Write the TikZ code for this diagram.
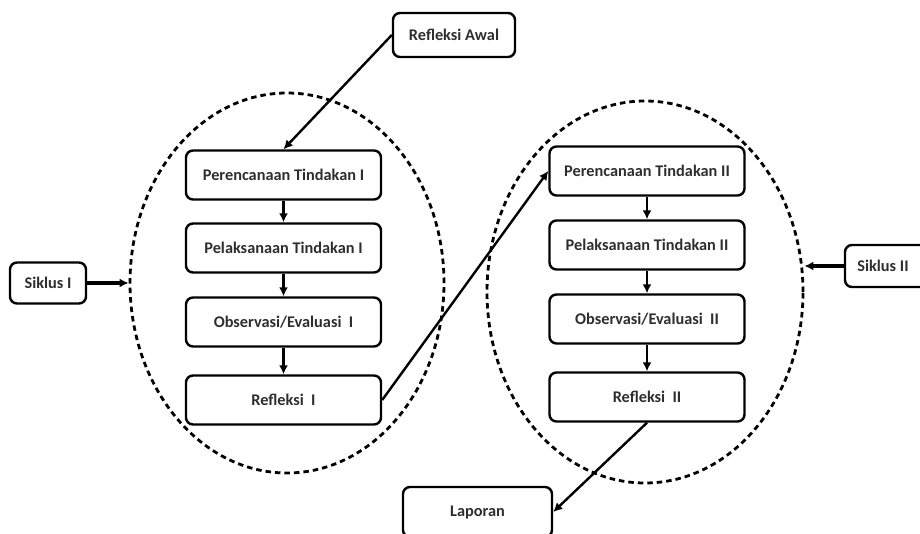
\documentclass[tikz,border=0pt]{standalone}
\usepackage{fontspec}
\setmainfont{Carlito}
\usetikzlibrary{shapes.geometric,arrows.meta}

\tikzset{
  box/.style={draw, line width=2.4pt, rounded corners=7pt, minimum width=195pt,
    minimum height=49pt, font=\fontsize{16.3}{18}\selectfont\bfseries, text=black!82},
  cycle/.style={draw, ellipse, line width=2.8pt, dash pattern=on 5.5pt off 4pt, inner sep=0pt}
}

\begin{document}
\begin{tikzpicture}[x=1pt, y=-1pt]
\useasboundingbox (0,0) rectangle (920,533);
\node[cycle, minimum width=314pt, minimum height=380pt] (e1) at (287,283) {};
\node[cycle, minimum width=316pt, minimum height=382pt] (e2) at (645,292) {};
\node[box, minimum width=122pt, minimum height=44pt] (0) at (454,35) {Refleksi Awal};
\node[box] (1) at (283.5,175) {Perencanaan Tindakan I};
\node[box] (2) at (283.5,248) {Pelaksanaan Tindakan I};
\node[box] (3) at (283.5,322) {Observasi/Evaluasi\ \ I};
\node[box] (4) at (283.5,400) {Refleksi\ \ I};
\node[box] (5) at (647,171) {Perencanaan Tindakan II};
\node[box] (6) at (647,245) {Pelaksanaan Tindakan II};
\node[box] (7) at (647,319) {Observasi/Evaluasi\ \ II};
\node[box] (8) at (647,397) {Refleksi\ \ II};
\node[box, minimum width=76pt, minimum height=41pt] (9) at (48,283) {Siklus I};
\node[box, minimum width=100pt, minimum height=42pt] (10) at (895,266) {\hspace*{-24pt}Siklus II};
\node[box, minimum width=149pt, minimum height=50pt] (11) at (477.5,512) {Laporan};
\path[draw,line width=2.4pt,-{Latex[length=9pt,width=9pt]}] (0.west) -- (1.north);
\path[draw,line width=2.4pt,-{Latex[length=9pt,width=9pt]}] (1) -- (2);
\path[draw,line width=2.4pt,-{Latex[length=9pt,width=9pt]}] (2) -- (3);
\path[draw,line width=2.4pt,-{Latex[length=9pt,width=9pt]}] (3) -- (4);
\path[draw,line width=2.4pt,-{Latex[length=9pt,width=9pt]}] (4.east) -- (5.west);
\path[draw,line width=2.4pt,-{Latex[length=9pt,width=9pt]}] (5) -- (6);
\path[draw,line width=2.4pt,-{Latex[length=9pt,width=9pt]}] (6) -- (7);
\path[draw,line width=2.4pt,-{Latex[length=9pt,width=9pt]}] (7) -- (8);
\path[draw,line width=3.2pt,-{Latex[length=9pt,width=9pt]}] (9.east) -- (e1.west |- 9.east);
\path[draw,line width=3.2pt,-{Latex[length=9pt,width=9pt]}] (10.west) -- (e2.east |- 10.west);
\path[draw,line width=2.4pt,-{Latex[length=9pt,width=9pt]}] (8.south) -- (11.east);
\end{tikzpicture}
\end{document}
